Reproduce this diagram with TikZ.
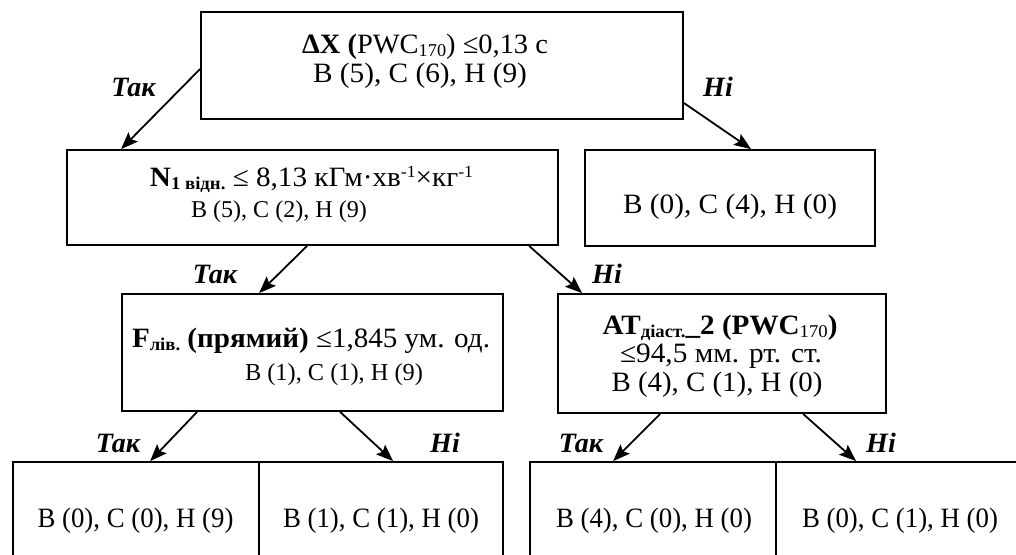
\documentclass[tikz,border=0pt]{standalone}
\usepackage{fontspec}
\setmainfont{Liberation Serif}
\usepackage{graphicx}
\usetikzlibrary{arrows.meta}

% stretch or squeeze one line of text to a given width, keeping its height
\newcommand{\fitto}[2]{\resizebox{#1pt}{\height}{#2}}
% scale one line of text as a whole to a given width
\newcommand{\sizeto}[2]{\resizebox{#1pt}{!}{#2}}
% small lowered / raised indices
\newcommand{\lowtxt}[1]{\raisebox{-3pt}{\fontsize{18}{18}\selectfont #1}}
\newcommand{\hightxt}[1]{\raisebox{9pt}{\fontsize{17}{17}\selectfont #1}}

\tikzset{
  box/.style={draw, line width=1.8pt, inner sep=0pt, rectangle},
  tline/.style={anchor=base, inner sep=0pt, font=\fontsize{28}{30}\selectfont},
  lbl/.style={anchor=base, inner sep=0pt, font=\fontsize{28}{30}\selectfont\bfseries\itshape},
  arr/.style={line width=1.8pt, -{Stealth[length=17pt,width=13pt,inset=3pt]}}
}

\begin{document}
\begin{tikzpicture}[x=1pt,y=-1pt]
\useasboundingbox (0,0) rectangle (1016,554);
\clip (0,0) rectangle (1016,554);

% decision boxes
\node[box, minimum width=482pt, minimum height=107pt] (top) at (442,65.5) {};
\node[box, minimum width=491pt, minimum height=95pt] (n1) at (312.5,197.5) {};
\node[box, minimum width=290pt, minimum height=96pt] (r1) at (730,198) {};
\node[box, minimum width=381pt, minimum height=117pt] (fb) at (312.5,352.5) {};
\node[box, minimum width=328pt, minimum height=119pt] (at) at (722,353.5) {};

% leaves (bottom row, running off the page)
\node[box, minimum width=246pt, minimum height=112pt] (b1) at (136,518) {};
\node[box, minimum width=244pt, minimum height=112pt] (b2) at (381,518) {};
\node[box, minimum width=246pt, minimum height=112pt] (b3) at (653,518) {};
\node[box, minimum width=246pt, minimum height=112pt] (b4) at (899,518) {};

% texts of the boxes
\node[tline] (t1a) at (425,53) {\fitto{246}{\textbf{ΔX (}PWC\lowtxt{170}) ≤0,13 с}};
\node[tline] (t1b) at (420,82) {\fitto{214}{В (5), С (6), Н (9)}};

\node[tline] (t2a) at (311.5,186) {\fitto{323}{\textbf{N\lowtxt{1 відн.}} ≤ 8,13 кГм·хв\hightxt{-1}×кг\hightxt{-1}}};
\node[tline] (t2b) at (279,217) {\sizeto{176}{В (5), С (2), Н (9)}};

\node[tline] (t3) at (730,213) {\fitto{214}{В (0), С (4), Н (0)}};

\node[tline] (t4a) at (311,347) {\fitto{358}{\textbf{F\lowtxt{лів.} (прямий)} ≤1,845 ум. од.}};
\node[tline] (t4b) at (334,380) {\sizeto{178}{В (1), С (1), Н (9)}};

\node[tline] (t5a) at (720,334) {\fitto{235}{\textbf{AT\lowtxt{діаст.}\_2 (PWC\lowtxt{\mdseries 170})}}};
\node[tline] (t5b) at (721,362) {\fitto{202}{≤94,5 мм. рт. ст.}};
\node[tline] (t5c) at (717,391) {\fitto{211}{В (4), С (1), Н (0)}};

\node[tline] (t6) at (135.5,527) {\fitto{196}{В (0), С (0), Н (9)}};
\node[tline] (t7) at (381,527) {\fitto{196}{В (1), С (1), Н (0)}};
\node[tline] (t8) at (654,527) {\fitto{196}{В (4), С (0), Н (0)}};
\node[tline] (t9) at (900,527) {\fitto{196}{В (0), С (1), Н (0)}};

% branches
\draw[arr] ([yshift=-3.5pt]top.west) -- ([xshift=55pt]n1.north west);
\draw[arr] ([yshift=-37.5pt]top.east) -- ([xshift=167pt]r1.north west);
\draw[arr] ([xshift=241pt]n1.south west) -- ([xshift=138pt]fb.north west);
\draw[arr] ([xshift=463pt]n1.south west) -- ([xshift=25pt]at.north west);
\draw[arr] ([xshift=76pt]fb.south west) -- ([xshift=138pt]b1.north west);
\draw[arr] ([xshift=219pt]fb.south west) -- ([xshift=135pt]b2.north west);
\draw[arr] ([xshift=103pt]at.south west) -- ([xshift=84pt]b3.north west);
\draw[arr] ([xshift=246pt]at.south west) -- ([xshift=81pt]b4.north west);

% branch labels
\node[lbl] (l1) at (133.5,96) {Так};
\node[lbl] (l2) at (718,96) {Ні};
\node[lbl] (l3) at (215,283) {Так};
\node[lbl] (l4) at (607,283) {Ні};
\node[lbl] (l5) at (118,452) {Так};
\node[lbl] (l6) at (445,452) {Ні};
\node[lbl] (l7) at (581,452) {Так};
\node[lbl] (l8) at (881,452) {Ні};
\end{tikzpicture}
\end{document}
